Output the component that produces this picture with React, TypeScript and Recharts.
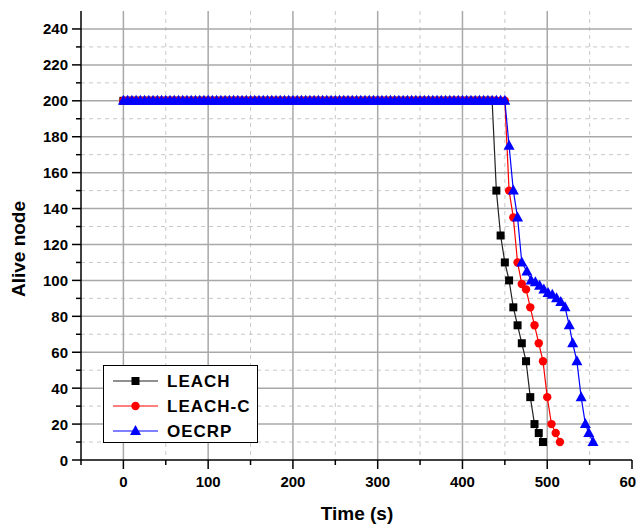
import { CartesianGrid, Legend, Line, LineChart, XAxis, YAxis } from 'recharts';

// time steps (s) while every node is still alive
const stableTime = [
  0, 5, 10, 15, 20, 25, 30, 35, 40, 45, 50, 55, 60, 65, 70, 75, 80, 85, 90, 95,
  100, 105, 110, 115, 120, 125, 130, 135, 140, 145, 150, 155, 160, 165, 170, 175, 180, 185, 190, 195,
  200, 205, 210, 215, 220, 225, 230, 235, 240, 245, 250, 255, 260, 265, 270, 275, 280, 285, 290, 295,
  300, 305, 310, 315, 320, 325, 330, 335, 340, 345, 350, 355, 360, 365, 370, 375, 380, 385, 390, 395,
  400, 405, 410, 415, 420, 425, 430, 435, 440, 445, 450,
];
const stableAlive = [
  200, 200, 200, 200, 200, 200, 200, 200, 200, 200, 200, 200, 200, 200, 200, 200, 200, 200, 200, 200,
  200, 200, 200, 200, 200, 200, 200, 200, 200, 200, 200, 200, 200, 200, 200, 200, 200, 200, 200, 200,
  200, 200, 200, 200, 200, 200, 200, 200, 200, 200, 200, 200, 200, 200, 200, 200, 200, 200, 200, 200,
  200, 200, 200, 200, 200, 200, 200, 200, 200, 200, 200, 200, 200, 200, 200, 200, 200, 200, 200, 200,
  200, 200, 200, 200, 200, 200, 200, 200, 200, 200, 200,
];

// LEACH is flat up to 435 s
const leachTime = [440, 445, 450, 455, 460, 465, 470, 475, 480, 485, 490, 495];
const leachAlive = [150, 125, 110, 100, 85, 75, 65, 55, 35, 20, 15, 10];

const leachCTime = [455, 460, 465, 470, 475, 480, 485, 490, 495, 500, 505, 510, 515];
const leachCAlive = [150, 135, 110, 98, 95, 85, 75, 65, 55, 35, 20, 15, 10];

const oecrpTime = [455, 460, 465, 470, 476, 481, 486, 491, 496, 501, 506, 511, 516, 521, 526, 530, 535, 540, 545, 549, 554];
const oecrpAlive = [175, 150, 135, 110, 105, 100, 99, 97, 95, 93, 92, 90, 88, 85, 75, 65, 55, 35, 20, 15, 10];

const yTicks = [0, 10, 20, 30, 40, 50, 60, 70, 80, 90, 100, 110, 120, 130, 140, 150, 160, 170, 180, 190, 200, 210, 220, 230, 240];
const xTicks = [-50, 0, 50, 100, 150, 200, 250, 300, 350, 400, 450, 500, 550, 600];
const yMajorGrid = [20, 40, 60, 80, 100, 120, 140, 160, 180, 200, 220, 240];
const yMinorGrid = [10, 30, 50, 70, 90, 110, 130, 150, 170, 190, 210, 230];
const xMajorGrid = [0, 100, 200, 300, 400, 500];
const xMinorGrid = [50, 150, 250, 350, 450, 550];

const zip = (t: number[], v: number[]) => t.map((x, i) => ({ t: x, v: v[i] }));

const leachData = zip([...stableTime.slice(0, 88), ...leachTime], [...stableAlive.slice(0, 88), ...leachAlive]);
const leachCData = zip([...stableTime, ...leachCTime], [...stableAlive, ...leachCAlive]);
const oecrpData = zip([...stableTime, ...oecrpTime], [...stableAlive, ...oecrpAlive]);

const FONT = '"Liberation Sans", Arial, sans-serif';

const Square = ({ cx, cy, fill }: any) => <rect x={cx - 4} y={cy - 4} width={8} height={8} fill={fill} />;
const Dot = ({ cx, cy, fill }: any) => <circle cx={cx} cy={cy} r={4.2} fill={fill} />;
const Tri = ({ cx, cy, fill }: any) => (
  <polygon points={`${cx},${cy - 6} ${cx - 5.5},${cy + 4} ${cx + 5.5},${cy + 4}`} fill={fill} />
);

const series = [
  { name: 'LEACH', color: '#000000', line: '#222222', data: leachData, Marker: Square },
  { name: 'LEACH-C', color: '#ff0000', line: '#ff0000', data: leachCData, Marker: Dot },
  { name: 'OECRP', color: '#0000ff', line: '#0000ff', data: oecrpData, Marker: Tri },
];

function YTick({ x, y, payload }: any) {
  const major = payload.value % 20 === 0;
  return (
    <g>
      <line x1={x - (major ? 9 : 5)} x2={x} y1={y} y2={y} stroke="#000" strokeWidth={1.5} />
      {major && (
        <text x={x - 13} y={y} textAnchor="end" dominantBaseline="central" fontSize={15} fontWeight="bold" fontFamily={FONT} fill="#000">
          {payload.value}
        </text>
      )}
    </g>
  );
}

function XTick({ x, y, payload }: any) {
  const major = payload.value % 100 === 0;
  return (
    <g>
      <line x1={x} x2={x} y1={y} y2={y + (major ? 9 : 5)} stroke="#000" strokeWidth={1.5} />
      {major && (
        <text x={x} y={y + 21} textAnchor="middle" dominantBaseline="central" fontSize={15} fontWeight="bold" fontFamily={FONT} fill="#000">
          {payload.value}
        </text>
      )}
    </g>
  );
}

function LegendBox() {
  return (
    <svg width={155} height={78} style={{ display: 'block' }}>
      <rect x={0.5} y={0.5} width={154} height={77} fill="#fff" stroke="#000" strokeWidth={1} />
      {series.map((s, i) => {
        const y = 16 + i * 25;
        return (
          <g key={s.name}>
            <line x1={10} x2={55} y1={y} y2={y} stroke={s.line} strokeWidth={1.2} />
            <s.Marker cx={32.5} cy={y} fill={s.color} />
            <text x={64} y={y} dominantBaseline="central" fontSize={17} fontWeight="bold" fontFamily={FONT} letterSpacing={1} fill="#000">
              {s.name}
            </text>
          </g>
        );
      })}
    </svg>
  );
}

export default function App() {
  return (
    <LineChart width={636} height={516} margin={{ top: 3, right: 12, left: 0, bottom: 0 }}>
      <CartesianGrid horizontalValues={yMinorGrid} verticalValues={xMinorGrid} stroke="#c8c8c8" strokeDasharray="4 4" />
      <CartesianGrid horizontalValues={yMajorGrid} verticalValues={xMajorGrid} stroke="#a8a8a8" strokeWidth={1.5} />
      <XAxis
        dataKey="t"
        type="number"
        domain={[-50, 600]}
        ticks={xTicks}
        interval={0}
        height={64}
        tickSize={0}
        tickMargin={0}
        tickLine={false}
        axisLine={{ stroke: '#000', strokeWidth: 1.5 }}
        tick={<XTick />}
        allowDuplicatedCategory={false}
        label={{
          content: () => (
            <text x={349} y={512} textAnchor="middle" fontSize={19} fontWeight="bold" fontFamily={FONT} fill="#000">
              Time (s)
            </text>
          ),
        }}
      />
      <YAxis
        type="number"
        domain={[0, 250]}
        ticks={yTicks}
        interval={0}
        width={73}
        tickSize={0}
        tickMargin={0}
        tickLine={false}
        axisLine={{ stroke: '#000', strokeWidth: 1.5 }}
        tick={<YTick />}
        label={{
          content: () => (
            <text x={17} y={241} transform="rotate(-90 17 241)" textAnchor="middle" fontSize={19} fontWeight="bold" fontFamily={FONT} fill="#000">
              Alive node
            </text>
          ),
        }}
      />
      <Legend
        layout="horizontal"
        align="center"
        verticalAlign="middle"
        content={() => <LegendBox />}
        wrapperStyle={{ left: 95, top: 357, width: 155, height: 78 }}
      />
      {series.map((s) => (
        <Line
          key={s.name}
          name={s.name}
          data={s.data}
          dataKey="v"
          stroke={s.line}
          strokeWidth={1.2}
          dot={(p: any) => <s.Marker key={`${s.name}-${p.index}`} cx={p.cx} cy={p.cy} fill={s.color} />}
          activeDot={false}
          isAnimationActive={false}
        />
      ))}
    </LineChart>
  );
}
